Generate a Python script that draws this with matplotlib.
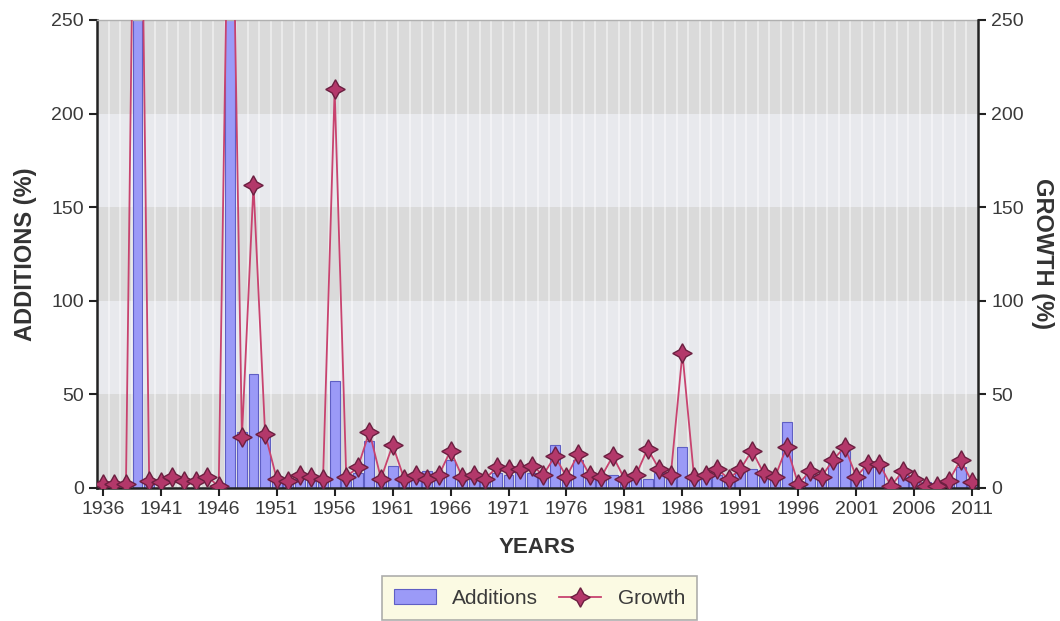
import matplotlib
matplotlib.use("Agg")
import matplotlib.pyplot as plt
import numpy as np

years = list(range(1936, 2012))

additions = [
    0, 0, 0, 400, 2, 0, 0, 0, 0, 0, 0,          # 1936-1946
    400, 30, 61, 28,                             # 1947-1950
    5, 3, 5, 4, 3, 57, 4, 8, 25, 4,              # 1951-1960
    12, 3, 5, 9, 6, 15, 4, 5, 4, 8,              # 1961-1970
    7, 9, 8, 6, 23, 5, 15, 6, 5, 7,              # 1971-1980
    4, 5, 5, 8, 5, 22, 4, 5, 7, 4,               # 1981-1990
    8, 10, 6, 5, 35, 3, 8, 5, 15, 20,            # 1991-2000
    6, 12, 12, 2, 7, 4, 3, 2, 3, 11,             # 2001-2010
    2,                                           # 2011
]

growth = [
    2, 2, 2, 500, 4, 3, 6, 4, 4, 6, 1,           # 1936-1946
    400, 27, 162, 29,                            # 1947-1950
    5, 4, 7, 6, 5, 213, 6, 11, 30, 5,            # 1951-1960
    23, 5, 7, 5, 7, 20, 6, 7, 5, 11,             # 1961-1970
    10, 10, 12, 7, 17, 6, 18, 7, 6, 17,          # 1971-1980
    5, 7, 21, 10, 7, 72, 6, 7, 10, 5,            # 1981-1990
    10, 20, 8, 6, 22, 2, 9, 6, 15, 22,           # 1991-2000
    6, 13, 13, 1, 9, 5, 1, 1, 4, 15,             # 2001-2010
    3,                                           # 2011
]

xtick_years = list(range(1936, 2012, 5))
ytick_vals = [0, 50, 100, 150, 200, 250]

plt.rcParams['font.family'] = ['Liberation Sans', 'DejaVu Sans']

fig = plt.figure(figsize=(10.6, 6.21), dpi=100)
ax = fig.add_axes([97/1060, 1-488/621, (978-97)/1060, (488-20)/621])

# background bands
band_dark = '#dadada'
band_light = '#e8e9ed'
for i, lo in enumerate(range(0, 250, 50)):
    ax.axhspan(lo, lo + 50, color=band_dark if i % 2 == 0 else band_light, zorder=0, lw=0)
for y in years:
    ax.axvline(y + 0.5, color='white', alpha=0.5, lw=1.3, zorder=0.5)

bars = ax.bar(years, additions, width=0.85, color='#9b9af7', edgecolor='#5f5fc4',
              linewidth=0.8, zorder=2, label='Additions')
line, = ax.plot(years, growth, color='#c8436f', lw=1.3, marker=(4, 1, 0), markersize=14,
                markerfacecolor='#b3386a', markeredgecolor='#6b1f40', markeredgewidth=1.0,
                zorder=3, label='Growth')

ax.set_xlim(1935.5, 2011.5)
ax.set_ylim(0, 250)
ax.set_xticks(xtick_years)
ax.set_xticklabels([str(y) for y in xtick_years])
ax.set_yticks(ytick_vals)
ax.tick_params(axis='both', labelsize=14, labelcolor='#3a3a3a', length=6, width=1.5,
               color='#222222')
ax.tick_params(axis='x', pad=3)

for s in ['left', 'bottom']:
    ax.spines[s].set_color('#222222')
    ax.spines[s].set_linewidth(1.8)
ax.spines['right'].set_visible(False)
ax.spines['top'].set_color('#b0b0b0')
ax.spines['top'].set_linewidth(1.0)

ax2 = ax.twinx()
ax2.set_ylim(0, 250)
ax2.set_yticks(ytick_vals)
ax2.tick_params(axis='y', labelsize=14, labelcolor='#3a3a3a', length=6, width=1.5,
                color='#222222')
ax2.spines['right'].set_color('#222222')
ax2.spines['right'].set_linewidth(1.8)
for s in ['left', 'top', 'bottom']:
    ax2.spines[s].set_visible(False)

ax.set_ylabel('ADDITIONS (%)', fontsize=17, fontweight='bold', color='#333333', labelpad=10)
ax2.set_ylabel('GROWTH (%)', fontsize=17, fontweight='bold', color='#333333',
               rotation=-90, labelpad=22)
ax.set_xlabel('YEARS', fontsize=16, fontweight='bold', color='#333333', labelpad=14)

leg = fig.legend([bars, line], ['Additions', 'Growth'], loc='upper center',
                 bbox_to_anchor=(0.509, 1-566/621),
                 ncol=2, fontsize=15, frameon=True, facecolor='#fbf9dc',
                 edgecolor='#9a9a9a', fancybox=False, handlelength=2.0,
                 columnspacing=1.0, borderpad=0.6, labelcolor='#3a3a3a')
leg.get_frame().set_linewidth(1.2)

fig.savefig('out.png', dpi=100)
